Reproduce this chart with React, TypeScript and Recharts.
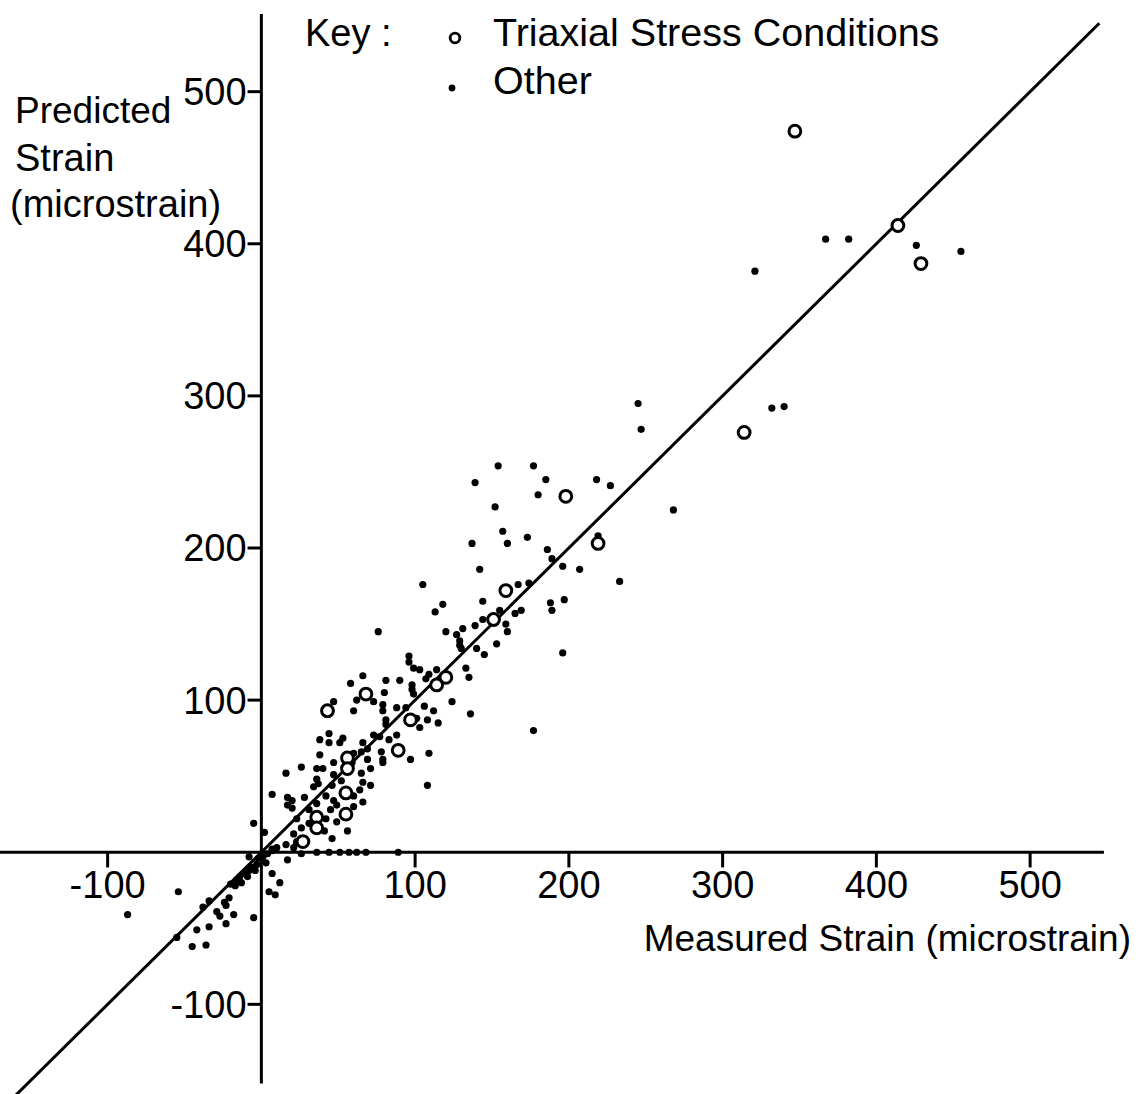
import React from 'react';
import { ScatterChart, Scatter, XAxis, YAxis, ReferenceLine } from 'recharts';

const FONT = '"Liberation Sans", Arial, sans-serif';

// Triaxial stress conditions (open circles)
const triaxialMeasured = [347, 414, 429, 314, 198, 219, 159, 151, 120, 114, 43, 68, 97, 89, 56, 56, 55, 55, 36, 36, 27];
const triaxialPredicted = [474, 412, 387, 276, 234, 203, 172, 153, 115, 110, 93, 104, 87, 67, 62, 55, 39, 25, 23, 16, 7];

// Other (small dots)
const otherMeasured = [
  367, 382, 426, 455, 321, 245, 247, 332, 340,
  154, 177, 139, 185, 218, 227, 180, 152, 268, 157, 173, 160, 137, 186, 189, 196, 142, 207, 219, 233, 105,
  167, 174, 144, 118, 113, 188, 197, 189, 155, 169, 165, 144, 159, 160, 139, 131, 120, 127, 129, 129, 130,
  153, 140, 145, 196, 133, 114,
  76, 96, 96, 99, 103, 109, 107, 81, 90, 135, 98, 98, 99, 80, 124, 136, 177, 88, 94, 79, 106, 112, 81, 81,
  101, 103, 108, 115, 73, 77, 88, 83, 78, 79, 109, 97, 71, 71, 108,
  66, 58, 79, 62, 73, 47, 60, 44, 38, 44, 53, 51, 66, 69, 65, 60, 38, 59, 69, 47, 26, 16, 36, 40, 47, 65,
  36, 52, 66, 34, 37, 46, 64, 7, 17, 20, 28, 42, 60, 66, 17, 20, 47, 49, 60, 36, 31, 45, 23, 31, 42, 49,
  26, 41, 56, 46, 21, 2, -5, 23, 21, 16, 10, 7, 4, 79,
  36, 44, 51, 57, 62, 68, 89, 17, 26, 7, 23, 7,
  -54, -87, -34, -38, -21, -24, -23, -29, -27, -18, -23, -42, -34, -5, -55, -45, -36,
  12, 5, 9, 3, -8, -20, -16, -14, -11, -8, -6, -3, -13, -9, -17, -2, 1, -4,
];
const otherPredicted = [
  403, 403, 399, 395, 382, 295, 278, 292, 293,
  254, 254, 243, 245, 245, 241, 235, 227, 225, 211, 207, 203, 203, 199, 193, 188, 186, 186, 208, 178, 176,
  176, 177, 165, 163, 158, 164, 166, 159, 159, 159, 157, 153, 150, 145, 149, 147, 145, 143, 139, 136, 134,
  137, 134, 130, 131, 121, 120,
  145, 129, 125, 121, 120, 117, 114, 113, 113, 115, 110, 107, 104, 105, 99, 91, 80, 95, 95, 93, 96, 93, 87, 84,
  88, 82, 87, 85, 77, 76, 77, 74, 66, 61, 65, 61, 55, 44, 44,
  116, 111, 97, 100, 99, 99, 93, 78, 74, 72, 75, 72, 72, 68, 66, 65, 64, 59, 61, 59, 56, 52, 55, 55, 51, 52,
  48, 47, 46, 43, 45, 44, 41, 38, 36, 34, 36, 37, 37, 33, 31, 29, 34, 31, 30, 32, 28, 28, 22, 19, 22, 20,
  16, 14, 14, 9, 12, 13, 19, 6, 3, 5, 3, 2, -1, 59,
  0, 0, 0, 0, 0, 0, 0, -5, -1, -14, 7, 1,
  -26, -41, -32, -36, -30, -33, -35, -39, -42, -41, -47, -51, -49, -43, -56, -62, -61,
  -20, -26, -28, -7, -3, -21, -18, -16, -14, -12, -10, -8, -20, -16, -22, -4, -3, -12,
];

const xTicks = [-100, 100, 200, 300, 400, 500];
const yTicks = [-100, 100, 200, 300, 400, 500];
const xDomain = [-170, 550];
const yDomain = [-155, 555];
const equalityLine = [-160, 545];
const xAxisSpan = [-170, 548];
const yAxisSpan = [-152, 551];
const xTickLen = 10;
const yTickLen = 9;

const triaxialData = triaxialMeasured.map((x, i) => ({ x, y: triaxialPredicted[i] }));
const otherData = otherMeasured.map((x, i) => ({ x, y: otherPredicted[i] }));

const DotShape = (props: any) => <circle cx={props.cx} cy={props.cy} r={3.6} fill="#000" />;
const RingShape = (props: any) => (
  <circle cx={props.cx} cy={props.cy} r={5.9} fill="#fff" stroke="#000" strokeWidth={3} />
);

const labelStyle = { fontSize: 38, fill: '#000', fontFamily: FONT };

export default function App() {
  return (
    <div style={{ position: 'absolute', left: 0, top: 0, width: 1138, height: 1094, background: '#fff', overflow: 'hidden' }}>
      <ScatterChart width={1138} height={1094} margin={{ top: 8, right: 31, bottom: 6, left: 0 }}>
        <XAxis type="number" dataKey="x" domain={xDomain} allowDataOverflow hide />
        <YAxis type="number" dataKey="y" domain={yDomain} allowDataOverflow hide />
        <ReferenceLine
          segment={[{ x: xAxisSpan[0], y: 0 }, { x: xAxisSpan[1], y: 0 }]}
          stroke="#000" strokeWidth={3} ifOverflow="visible"
        />
        <ReferenceLine
          segment={[{ x: 0, y: yAxisSpan[0] }, { x: 0, y: yAxisSpan[1] }]}
          stroke="#000" strokeWidth={3} ifOverflow="visible"
        />
        {xTicks.map((v) => (
          <ReferenceLine
            key={'xt' + v}
            segment={[{ x: v, y: 0 }, { x: v, y: -xTickLen }]}
            stroke="#000" strokeWidth={3} ifOverflow="visible"
            label={{ value: String(v), position: 'bottom', offset: 4, ...labelStyle }}
          />
        ))}
        {yTicks.map((v) => (
          <ReferenceLine
            key={'yt' + v}
            segment={[{ x: -yTickLen, y: v }, { x: 0, y: v }]}
            stroke="#000" strokeWidth={3} ifOverflow="visible"
            label={{ value: String(v), position: 'left', offset: 1, ...labelStyle }}
          />
        ))}
        <ReferenceLine
          segment={[{ x: equalityLine[0], y: equalityLine[0] }, { x: equalityLine[1], y: equalityLine[1] }]}
          stroke="#000" strokeWidth={3} ifOverflow="visible"
        />
        <Scatter name="Other" data={otherData} shape={DotShape} isAnimationActive={false} />
        <Scatter name="Triaxial Stress Conditions" data={triaxialData} shape={RingShape} isAnimationActive={false} />
      </ScatterChart>
      <svg width={1138} height={1094} style={{ position: 'absolute', left: 0, top: 0, pointerEvents: 'none' }}>
        <g fontFamily={FONT} fill="#000">
          <text x={305} y={46} fontSize={38}>Key :</text>
          <circle cx={455} cy={38} r={4.8} fill="#fff" stroke="#000" strokeWidth={2.8} />
          <text x={493} y={46} fontSize={39.5}>Triaxial Stress Conditions</text>
          <circle cx={452} cy={88} r={3.4} fill="#000" />
          <text x={493} y={94} fontSize={39.5}>Other</text>
          <text x={15} y={123} fontSize={37}>Predicted</text>
          <text x={15} y={171} fontSize={38}>Strain</text>
          <text x={10} y={217} fontSize={38}>(microstrain)</text>
          <text x={1131} y={951} textAnchor="end" fontSize={37}>Measured Strain (microstrain)</text>
        </g>
      </svg>
    </div>
  );
}
